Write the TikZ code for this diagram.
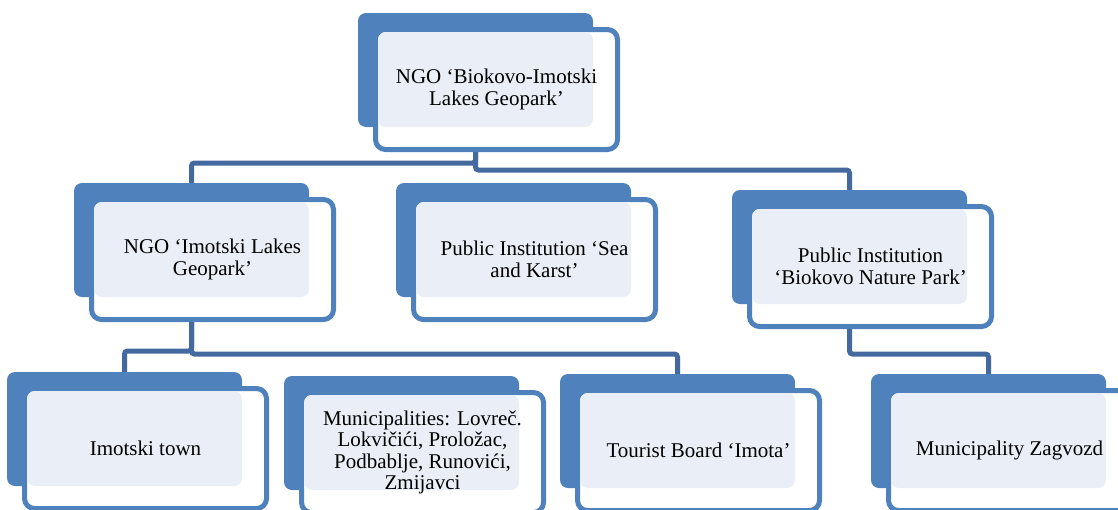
\documentclass[tikz,border=0pt]{standalone}
\usepackage{fontspec}
\setmainfont{Liberation Serif}
\usepackage{tikz}
\usetikzlibrary{
  calc,
  backgrounds,
}
\definecolor{boxblue}{HTML}{4F81BD}
\definecolor{boxlight}{HTML}{EAEFF7}
\definecolor{linkblue}{HTML}{43699E}

\begin{document}
\begin{tikzpicture}[
    x=1pt, y=-1pt,
    backbox/.style={rectangle, rounded corners=8pt, fill=boxblue, anchor=north west,
      minimum width=235pt, minimum height=114pt, inner sep=0pt, outer sep=0pt},
    frontbox/.style={rectangle, rounded corners=10pt, draw=boxblue, fill=white, line width=5pt,
      anchor=north west, minimum width=242pt, minimum height=120pt, inner sep=0pt, outer sep=0pt},
    boxtext/.style={align=center, font=\fontsize{21}{21.6}\selectfont},
    link/.style={draw=linkblue, line width=5pt, rounded corners=3pt},
  ]
  \useasboundingbox (0,0) rectangle (1118,509);
  % boxes: name / x / y of the back panel / text
  \foreach \n/\x/\y/\t in {
      top/358/13/{NGO ‘Biokovo-Imotski\\Lakes Geopark’},
      lakes/74/183/{NGO ‘Imotski Lakes\\Geopark’},
      sea/396/183/{Public Institution ‘Sea\\and Karst’},
      biokovo/732/190/{Public Institution\\‘Biokovo Nature Park’},
      town/7/372/{Imotski town},
      munic/284/376/{Municipalities: Lovreč.\\Lokvičići, Proložac,\\Podbablje, Runovići,\\Zmijavci},
      tourist/560/374/{Tourist Board ‘Imota’},
      zagvozd/871/374/{Municipality Zagvozd}} {
    \node[backbox] (\n-b) at (\x,\y) {};
    \node[frontbox] (\n) at (\x+17.5,\y+16.5) {};
    \fill[boxlight, rounded corners=8pt] ($(\n.north west)+(2.5,2.5)$) rectangle (\n-b.south east);
    \node[boxtext] (\n-t) at (\n.center) {\t};
  }
  % connectors
  \begin{scope}[on background layer]
    \draw[link] (top-b.south) |- ($(lakes-b.north)+(0,-20)$) -- (lakes-b.north);
    \draw[link] (top-b.south) |- ($(biokovo-b.north)+(0,-20)$) -- (biokovo-b.north);
    \draw[link] (lakes-b.south) |- ($(town-b.north)+(0,-21)$) -- (town-b.north);
    \draw[link] (lakes-b.south) |- ($(tourist-b.north)+(0,-20)$) -- (tourist-b.north);
    \draw[link] (biokovo-b.south) |- ($(zagvozd-b.north)+(0,-20)$) -- (zagvozd-b.north);
  \end{scope}
\end{tikzpicture}
\end{document}
